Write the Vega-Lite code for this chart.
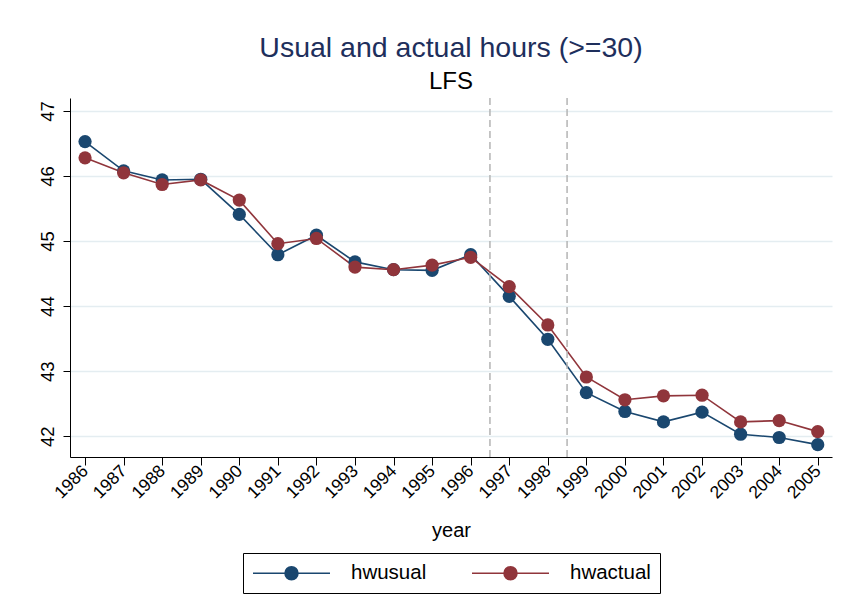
{
  "$schema": "https://vega.github.io/schema/vega-lite/v6.json",
  "autosize": {"type": "none"},
  "width": 762,
  "height": 359,
  "padding": {"left": 70, "top": 98, "right": 10, "bottom": 156},
  "background": "white",
  "config": {
    "font": "Liberation Sans",
    "view": {"stroke": null}
  },
  "title": {
    "text": "Usual and actual hours (>=30)",
    "subtitle": "LFS",
    "fontSize": 28.5,
    "fontWeight": "normal",
    "color": "#1e2f5c",
    "subtitleFontSize": 24,
    "subtitleColor": "black",
    "subtitlePadding": 8,
    "anchor": "middle",
    "frame": "group",
    "offset": 3
  },
  "datasets": {
    "hours": [
      {"year": 1986, "series": "hwusual", "hours": 46.53},
      {"year": 1987, "series": "hwusual", "hours": 46.08},
      {"year": 1988, "series": "hwusual", "hours": 45.94},
      {"year": 1989, "series": "hwusual", "hours": 45.95},
      {"year": 1990, "series": "hwusual", "hours": 45.41},
      {"year": 1991, "series": "hwusual", "hours": 44.79},
      {"year": 1992, "series": "hwusual", "hours": 45.09},
      {"year": 1993, "series": "hwusual", "hours": 44.68},
      {"year": 1994, "series": "hwusual", "hours": 44.56},
      {"year": 1995, "series": "hwusual", "hours": 44.55},
      {"year": 1996, "series": "hwusual", "hours": 44.79},
      {"year": 1997, "series": "hwusual", "hours": 44.15},
      {"year": 1998, "series": "hwusual", "hours": 43.49},
      {"year": 1999, "series": "hwusual", "hours": 42.67},
      {"year": 2000, "series": "hwusual", "hours": 42.38},
      {"year": 2001, "series": "hwusual", "hours": 42.22},
      {"year": 2002, "series": "hwusual", "hours": 42.37},
      {"year": 2003, "series": "hwusual", "hours": 42.03},
      {"year": 2004, "series": "hwusual", "hours": 41.98},
      {"year": 2005, "series": "hwusual", "hours": 41.87},
      {"year": 1986, "series": "hwactual", "hours": 46.28},
      {"year": 1987, "series": "hwactual", "hours": 46.05},
      {"year": 1988, "series": "hwactual", "hours": 45.87},
      {"year": 1989, "series": "hwactual", "hours": 45.94},
      {"year": 1990, "series": "hwactual", "hours": 45.63},
      {"year": 1991, "series": "hwactual", "hours": 44.96},
      {"year": 1992, "series": "hwactual", "hours": 45.04},
      {"year": 1993, "series": "hwactual", "hours": 44.60},
      {"year": 1994, "series": "hwactual", "hours": 44.56},
      {"year": 1995, "series": "hwactual", "hours": 44.63},
      {"year": 1996, "series": "hwactual", "hours": 44.75},
      {"year": 1997, "series": "hwactual", "hours": 44.30},
      {"year": 1998, "series": "hwactual", "hours": 43.71},
      {"year": 1999, "series": "hwactual", "hours": 42.91},
      {"year": 2000, "series": "hwactual", "hours": 42.56},
      {"year": 2001, "series": "hwactual", "hours": 42.62},
      {"year": 2002, "series": "hwactual", "hours": 42.63},
      {"year": 2003, "series": "hwactual", "hours": 42.22},
      {"year": 2004, "series": "hwactual", "hours": 42.24},
      {"year": 2005, "series": "hwactual", "hours": 42.07}
    ],
    "breaks": [
      {"year": 1996.5},
      {"year": 1998.5}
    ]
  },
  "layer": [
    {
      "data": {"name": "hours"},
      "mark": {"type": "line", "strokeWidth": 1.6},
      "encoding": {
        "x": {
          "field": "year",
          "type": "quantitative",
          "scale": {"domain": [1985.61, 2005.37], "nice": false, "zero": false},
          "axis": {
            "title": "year",
            "titleFontSize": 20,
            "titleFontWeight": "normal",
            "titleColor": "black",
            "titlePadding": 19,
            "values": [1986,1987,1988,1989,1990,1991,1992,1993,1994,1995,1996,1997,1998,1999,2000,2001,2002,2003,2004,2005],
            "format": "d",
            "labelAngle": -45,
            "labelAlign": "right",
            "labelBaseline": "middle",
            "labelFontSize": 17.5,
            "labelColor": "black",
            "labelPadding": 3,
            "labelOverlap": false,
            "labelFlush": false,
            "tickColor": "black",
            "tickSize": 8,
            "domainColor": "black",
            "grid": false
          }
        },
        "y": {
          "field": "hours",
          "type": "quantitative",
          "scale": {"domain": [41.68, 47.2], "nice": false, "zero": false},
          "axis": {
            "title": null,
            "values": [42, 43, 44, 45, 46, 47],
            "format": "d",
            "labelAngle": 270,
            "labelAlign": "center",
            "labelBaseline": "bottom",
            "labelFontSize": 18.5,
            "labelColor": "black",
            "labelPadding": 6,
            "tickColor": "black",
            "tickSize": 7,
            "domainColor": "black",
            "grid": true,
            "gridColor": "#e4edf1",
            "gridWidth": 1.5
          }
        },
        "color": {
          "field": "series",
          "type": "nominal",
          "scale": {"domain": ["hwusual", "hwactual"], "range": ["#1a476f", "#90353b"]},
          "legend": {
            "title": null,
            "orient": "none",
            "legendX": 173,
            "legendY": 455,
            "direction": "horizontal",
            "strokeColor": "black",
            "fillColor": "white",
            "padding": 9,
            "symbolType": "M-1,0H6.7M2.2,0A0.65,0.65 0 1,0 3.5,0A0.65,0.65 0 1,0 2.2,0",
            "symbolSize": 400,
            "symbolStrokeWidth": 1.5,
            "symbolOpacity": 1,
            "labelFontSize": 20.5,
            "labelColor": "black",
            "labelOffset": 77,
            "columnPadding": 42
          }
        }
      }
    },
    {
      "data": {"name": "hours"},
      "mark": {"type": "point", "filled": true, "size": 175, "opacity": 1},
      "encoding": {
        "x": {"field": "year", "type": "quantitative"},
        "y": {"field": "hours", "type": "quantitative"},
        "color": {"field": "series", "type": "nominal"}
      }
    },
    {
      "data": {"name": "breaks"},
      "mark": {"type": "rule", "color": "#b4b4b4", "strokeWidth": 1.5, "strokeDash": [7, 4]},
      "encoding": {
        "x": {"field": "year", "type": "quantitative"}
      }
    }
  ]
}
